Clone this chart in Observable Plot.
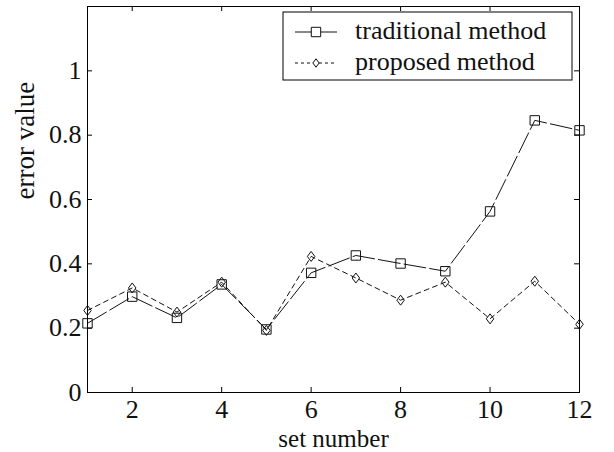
<!DOCTYPE html>
<html>
<head>
<meta charset="utf-8">
<script src="https://cdn.jsdelivr.net/npm/d3@7"></script>
<script src="https://cdn.jsdelivr.net/npm/@observablehq/plot@0.6"></script>
<style>
  html, body { margin: 0; padding: 0; background: white; }
</style>
</head>
<body>
<div id="chart"></div>
<script>
const sets = [1, 2, 3, 4, 5, 6, 7, 8, 9, 10, 11, 12];
const traditional = [0.215, 0.298, 0.232, 0.336, 0.196, 0.372, 0.426, 0.401, 0.377, 0.563, 0.846, 0.815];
const proposed = [0.255, 0.325, 0.250, 0.343, 0.193, 0.423, 0.356, 0.287, 0.343, 0.229, 0.346, 0.212];
const xTicks = [2, 4, 6, 8, 10, 12];
const yTicks = [0, 0.2, 0.4, 0.6, 0.8, 1];
const seriesNames = ["traditional method", "proposed method"];

const font = "'Liberation Serif', 'Times New Roman', serif";

const tallDiamond = {
  draw(ctx, size) {
    const r = Math.sqrt(size / Math.PI);
    const h = r, w = r * 0.75;
    ctx.moveTo(0, -h); ctx.lineTo(w, 0); ctx.lineTo(0, h); ctx.lineTo(-w, 0); ctx.closePath();
  }
};

const W = 614, H = 452, mL = 87, mR = 35, mT = 6, mB = 60;
const fw = W - mL - mR, fh = H - mT - mB;
const tk = 5;

const chart = Plot.plot({
  width: W, height: H,
  marginLeft: mL, marginRight: mR, marginTop: mT, marginBottom: mB,
  x: {domain: [1, 12]},
  y: {domain: [0, 1.2]},
  style: {fontFamily: font, fontSize: "26px", background: "white", color: "#111"},
  marks: [
    Plot.line(sets, {x: d => d, y: (d, i) => traditional[i], stroke: "#111", strokeWidth: 1, strokeDasharray: "22,4"}),
    Plot.line(sets, {x: d => d, y: (d, i) => proposed[i], stroke: "#111", strokeWidth: 1, strokeDasharray: "5,4"}),
    Plot.dot(sets, {x: d => d, y: (d, i) => traditional[i], symbol: "square", r: 5.3, stroke: "#111", fill: "none", strokeWidth: 1}),
    Plot.dot(sets, {x: d => d, y: (d, i) => proposed[i], symbol: tallDiamond, r: 5, stroke: "#111", fill: "none", strokeWidth: 1}),
    Plot.tickX(xTicks, {x: d => d, insetTop: fh - tk, stroke: "#000"}),
    Plot.tickX(xTicks, {x: d => d, insetBottom: fh - tk, stroke: "#000"}),
    Plot.tickY(yTicks, {y: d => d, insetRight: fw - tk, stroke: "#000"}),
    Plot.tickY(yTicks, {y: d => d, insetLeft: fw - tk, stroke: "#000"}),
    Plot.frame({stroke: "#000", strokeWidth: 1}),
    Plot.axisX({ticks: xTicks, tickSize: 0, tickPadding: 7.5, fontSize: 26, label: null, tickFormat: d => String(d)}),
    Plot.axisY({ticks: yTicks, tickSize: 0, tickPadding: 6, fontSize: 26, label: null, tickFormat: d => String(d)}),
    Plot.text(["error value"], {text: d => d, frameAnchor: "left", dx: -62, rotate: -90, fontSize: 27, fill: "#111"}),
    Plot.text(["set number"], {text: d => d, frameAnchor: "bottom", dy: 54.3, lineAnchor: "bottom", fontSize: 25, fill: "#111"})
  ]
});

const svg = d3.select(chart);
const lg = svg.append("g").attr("font-family", font).attr("font-size", 26).attr("fill", "#111")
  .attr("text-anchor", "start");
lg.append("rect").attr("x", 283).attr("y", 12).attr("width", 289).attr("height", 68)
  .attr("fill", "white").attr("stroke", "#000").attr("stroke-width", 1);
const rows = [
  {name: seriesNames[0], y: 32, dash: null, sym: d3.symbol(d3.symbolSquare, Math.PI * 5.3 * 5.3)()},
  {name: seriesNames[1], y: 63, dash: "3,3", sym: d3.symbol(tallDiamond, Math.PI * 4.2 * 4.2)()}
];
for (const r of rows) {
  const ln = lg.append("line").attr("x1", 295).attr("x2", 337).attr("y1", r.y).attr("y2", r.y)
    .attr("stroke", "#111").attr("stroke-width", 1);
  if (r.dash) ln.attr("stroke-dasharray", r.dash);
  lg.append("path").attr("d", r.sym).attr("transform", `translate(316,${r.y})`)
    .attr("fill", "white").attr("stroke", "#111").attr("stroke-width", 1);
  lg.append("text").attr("x", 355).attr("y", r.y + 7).attr("text-anchor", "start").text(r.name);
}

document.getElementById("chart").appendChild(chart);
</script>
</body>
</html>
